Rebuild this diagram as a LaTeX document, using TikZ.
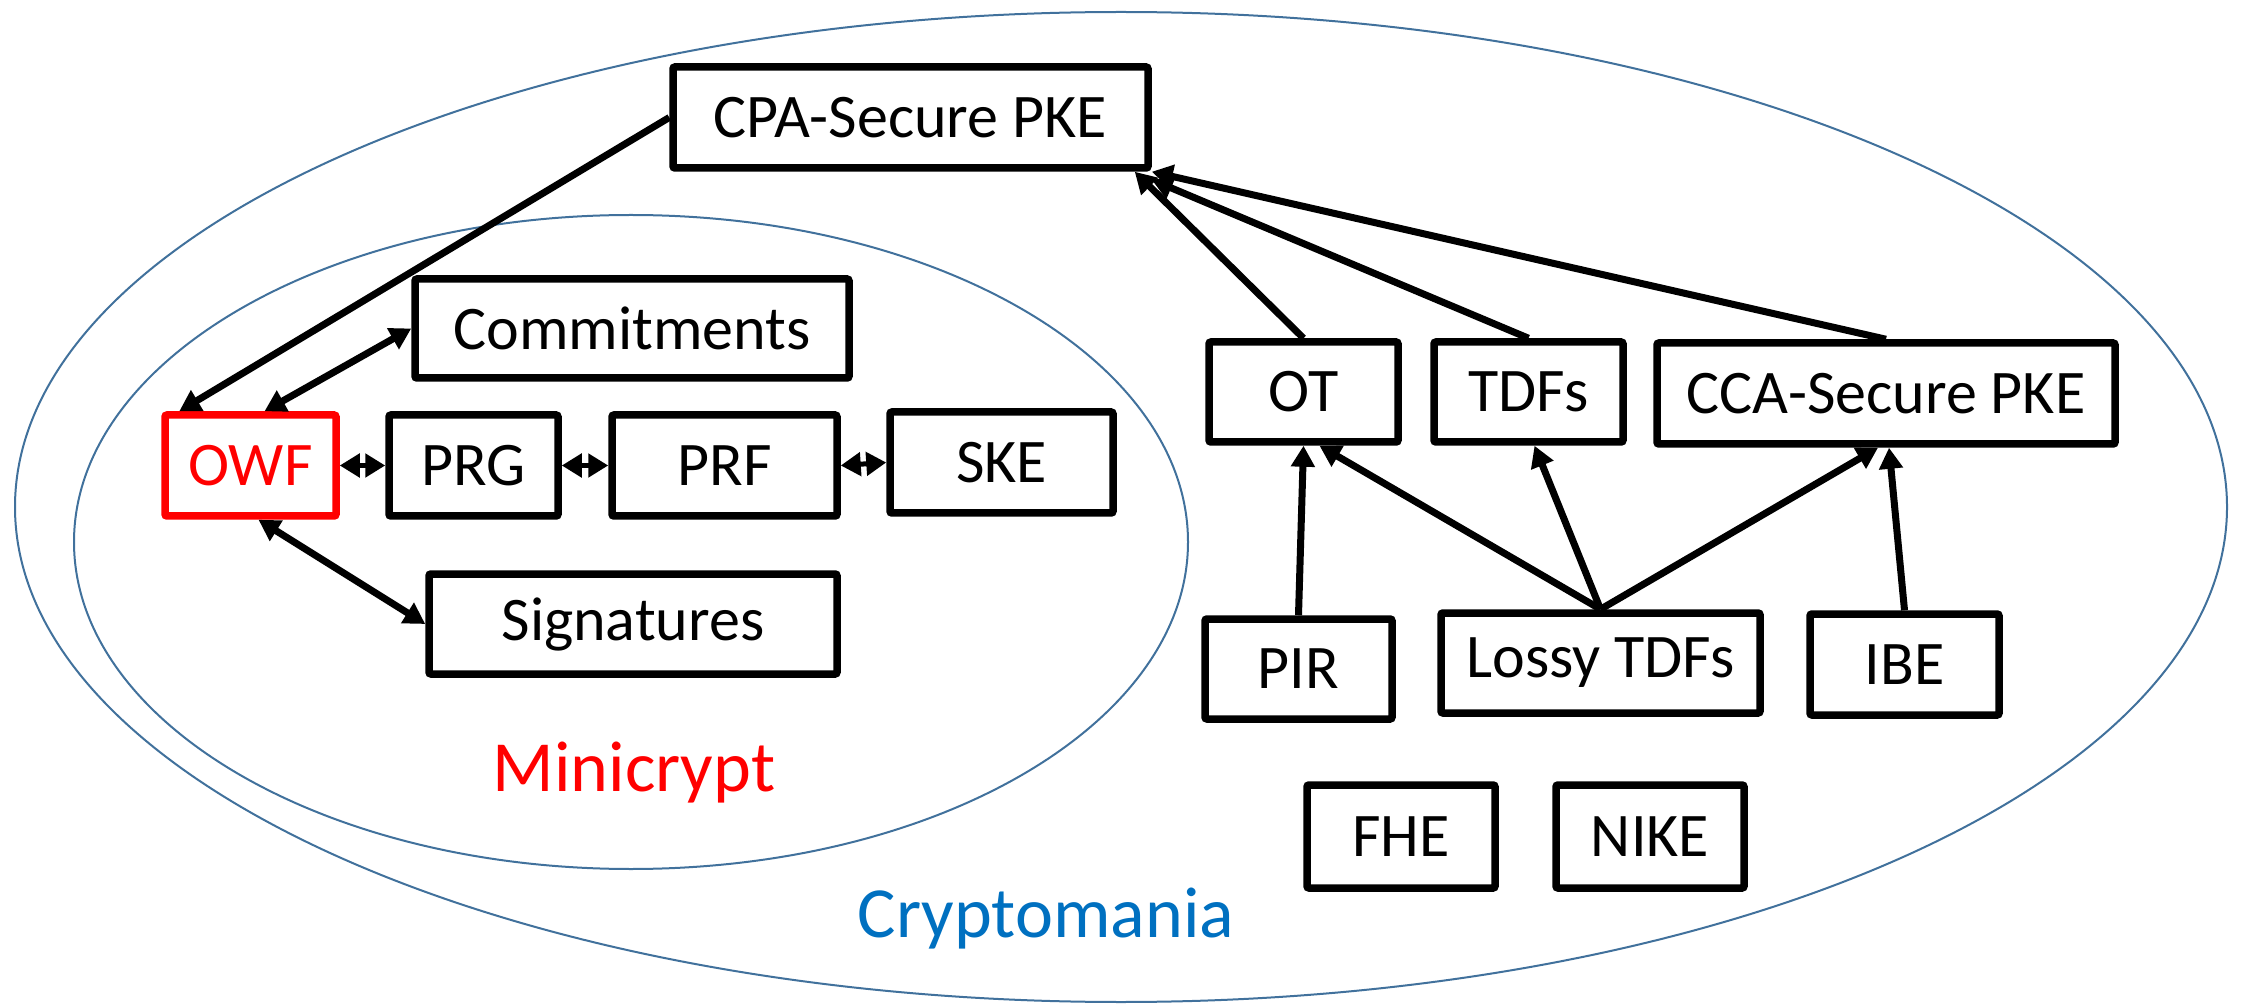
\documentclass[tikz,border=0pt]{standalone}
\usepackage{fontspec}
\setmainfont{Carlito}
\usetikzlibrary{arrows.meta,calc}
\definecolor{ellblue}{HTML}{41719C}
\definecolor{cmblue}{HTML}{0070C0}
\tikzset{
  box/.style={draw=black, line width=3.75pt, rounded corners=1pt, fill=white, inner sep=0pt,
    font=\fontsize{31}{36}\selectfont, align=center},
  owfbox/.style={box, draw=red, text=red},
  conn/.style={line width=3.5pt, -{Triangle[length=10.5pt,width=11.5pt]}},
  biconn/.style={line width=3.5pt, {Triangle[length=10.5pt,width=11.5pt]}-{Triangle[length=10.5pt,width=11.5pt]}},
  shortbi/.style={line width=2.5pt, {Triangle[length=10pt,width=11.5pt]}-{Triangle[length=10pt,width=11.5pt]}},
  world/.style={draw=ellblue, line width=1pt},
  worldlabel/.style={font=\fontsize{36}{42}\selectfont, anchor=base, inner sep=0pt}
}
\begin{document}
\begin{tikzpicture}[x=0.5pt,y=-0.5pt]
\useasboundingbox (0,0) rectangle (2244,1005);
% ellipses
\draw[world] (1121,507) ellipse [x radius=553pt, y radius=247.5pt];
\draw[world] (631,542) ellipse [x radius=278.5pt, y radius=163.5pt];
% labels
\node[worldlabel, text=red] (mini) at (634,791) {Minicrypt};
\node[worldlabel, text=cmblue] (crypto) at (1046,937) {Cryptomania};
% boxes
\node[box, minimum width=237.5pt, minimum height=50.5pt] (CPA) at (910.5,117.5) {CPA-Secure PKE};
\node[box, minimum width=217pt, minimum height=49.5pt] (COM) at (632,328.5) {Commitments};
\node[owfbox, minimum width=85.5pt, minimum height=50.5pt] (OWF) at (250.5,465.5) {OWF};
\node[box, minimum width=84.5pt, minimum height=50.5pt] (PRG) at (473.5,465.5) {PRG};
\node[box, minimum width=112.5pt, minimum height=50.5pt] (PRF) at (724.5,465.5) {PRF};
\node[box, minimum width=111.5pt, minimum height=50.5pt] (SKE) at (1001.5,462.5) {SKE};
\node[box, minimum width=204pt, minimum height=50pt] (SIG) at (633,624) {Signatures};
\node[box, minimum width=94.5pt, minimum height=50pt] (OT) at (1303.5,392) {OT};
\node[box, minimum width=94.5pt, minimum height=50pt] (TDF) at (1528.5,392) {TDFs};
\node[box, minimum width=229pt, minimum height=50.5pt] (CCA) at (1886,393.5) {CCA-Secure PKE};
\node[box, minimum width=93.5pt, minimum height=50pt] (PIR) at (1298.5,669) {PIR};
\node[box, minimum width=159.5pt, minimum height=50pt] (LOSSY) at (1600.5,663) {Lossy TDFs};
\node[box, minimum width=94.5pt, minimum height=50.5pt] (IBE) at (1904.5,664.5) {IBE};
\node[box, minimum width=94pt, minimum height=51.5pt] (FHE) at (1401,836.5) {FHE};
\node[box, minimum width=94pt, minimum height=51.5pt] (NIKE) at (1650,836.5) {NIKE};
% connectors
\draw[conn] (CPA.west) -- ([xshift=9pt]OWF.north west);
\draw[biconn] ([xshift=7pt]OWF.north) -- (COM.west);
\draw[shortbi] (OWF.east) -- (PRG.west);
\draw[shortbi] (PRG.east) -- (PRF.west);
\draw[shortbi] (PRF.east) -- (SKE.west);
\draw[biconn] ([xshift=4pt]OWF.south) -- (SIG.west);
\draw[conn] (OT.north) -- ([xshift=-8.5pt]CPA.south east);
\draw[conn] (TDF.north) -- ([yshift=-4pt]CPA.south east);
\draw[conn] (CCA.north) -- (CPA.south east);
\draw[conn] (PIR.north) -- (OT.south);
\draw[conn] (LOSSY.north) -- ([xshift=8pt]OT.south);
\draw[conn] (LOSSY.north) -- ([xshift=3pt]TDF.south);
\draw[conn] (LOSSY.north) -- ([xshift=-4pt]CCA.south);
\draw[conn] (IBE.north) -- ([xshift=1.5pt]CCA.south);
\end{tikzpicture}
\end{document}
